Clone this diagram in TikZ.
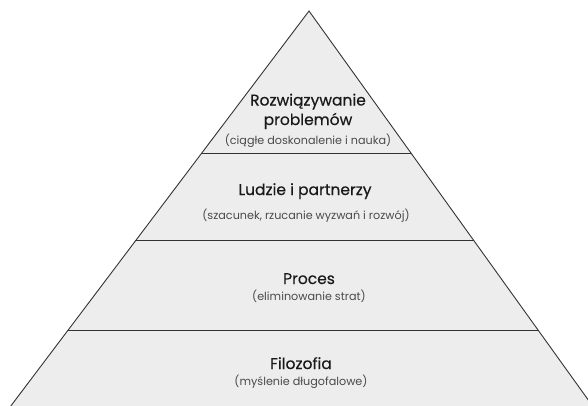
\documentclass[tikz,border=0pt]{standalone}
\usepackage{fontspec}
\setmainfont{Poppins}
\newfontfamily\titlefont[FakeBold=0.4]{Poppins}
\usetikzlibrary{calc}

\definecolor{layerfill}{HTML}{EDEDED}
\definecolor{edgegray}{HTML}{333333}
\definecolor{subgray}{HTML}{4A4A4A}

\begin{document}
\begin{tikzpicture}[
    x=1pt, y=-1pt, % pixel-like units, y pointing down
    edge/.style={edgegray, line width=0.9pt}, % Style for the pyramid outline
    divider/.style={edgegray, line width=1pt}, % Style for the layer borders
    titlestyle/.style={anchor=base, align=center, font=\titlefont\fontsize{15.5}{19.5}\selectfont, text=black!90}, % Style for layer names
    substyle/.style={anchor=base, font=\fontsize{11.2}{13}\selectfont, text=subgray} % Style for the notes in brackets
]

    % Fix the page size
    \useasboundingbox (0,0) rectangle (588,405);
    \clip (0,0) rectangle (588,405);

    % Corners of the pyramid
    \coordinate (apex) at (309,11);
    \coordinate (bl) at (10.8,406);
    \coordinate (br) at (592.6,406);

    % Body of the pyramid
    \fill[layerfill] (apex) -- (bl) -- (br) -- cycle;
    \draw[edge] (bl) -- (apex) -- (br);

    % Borders between the layers
    \foreach \t in {0.362, 0.582, 0.808} {
        \draw[divider] ($(apex)!\t!(bl)$) -- ($(apex)!\t!(br)$);
    }

    % Layer names and notes (base of a two-line node is its last line)
    \node[titlestyle] (solving) at (308,125) {Rozwiązywanie\\problemów};
    \node[substyle] (solvingnote) at (308,144) {(ciągłe doskonalenie i nauka)};

    \node[titlestyle] (people) at (305,195) {Ludzie i partnerzy};
    \node[substyle] (peoplenote) at (306,219) {(szacunek, rzucanie wyzwań i rozwój)};

    \node[titlestyle] (process) at (309,284) {Proces};
    \node[substyle] (processnote) at (309,300) {(eliminowanie strat)};

    \node[titlestyle] (philosophy) at (301,369) {Filozofia};
    \node[substyle] (philosophynote) at (301,385) {(myślenie długofalowe)};

\end{tikzpicture}
\end{document}
